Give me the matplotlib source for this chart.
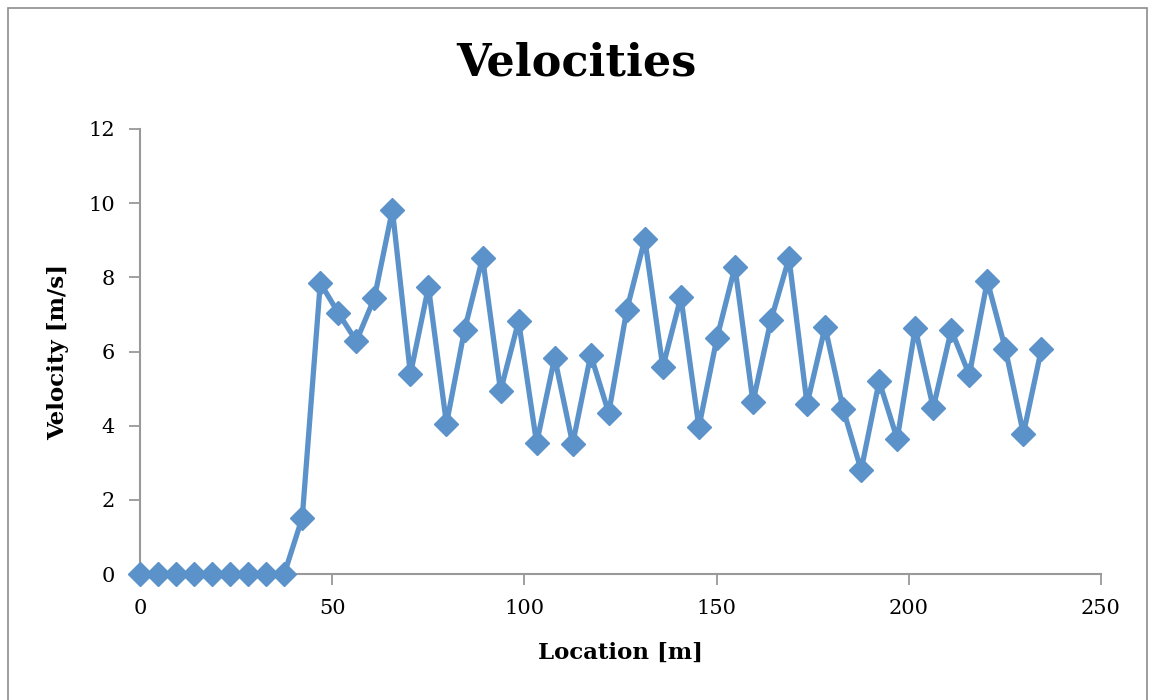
import matplotlib.pyplot as plt
from matplotlib.patches import Rectangle

# Location [m] and velocity [m/s]
location = [0.0, 4.69, 9.38, 14.07, 18.76, 23.45, 28.14, 32.83, 37.52, 42.21,
            46.9, 51.59, 56.28, 60.97, 65.66, 70.35, 75.04, 79.73, 84.42, 89.11,
            93.8, 98.49, 103.18, 107.87, 112.56, 117.25, 121.94, 126.63, 131.32, 136.01,
            140.7, 145.39, 150.08, 154.77, 159.46, 164.15, 168.84, 173.53, 178.22, 182.91,
            187.6, 192.29, 196.98, 201.67, 206.36, 211.05, 215.74, 220.43, 225.12, 229.81,
            234.5]
velocity = [0, 0, 0, 0, 0, 0, 0, 0, 0, 1.52,
            7.85, 7.04, 6.28, 7.44, 9.82, 5.39, 7.74, 4.05, 6.58, 8.53,
            4.94, 6.82, 3.53, 5.83, 3.51, 5.91, 4.34, 7.12, 9.03, 5.58,
            7.47, 3.96, 6.36, 8.28, 4.64, 6.85, 8.52, 4.58, 6.66, 4.45,
            2.80, 5.20, 3.64, 6.63, 4.48, 6.58, 5.37, 7.90, 6.07, 3.78,
            6.07]

x_ticks = [0, 50, 100, 150, 200, 250]
y_ticks = [0, 2, 4, 6, 8, 10, 12]

plt.rcParams['font.family'] = ['DejaVu Serif']
fig = plt.figure(figsize=(11.53, 7.0), dpi=100)
ax = fig.add_axes([140 / 1153, 1 - 574 / 700, (1101 - 140) / 1153, (574 - 129) / 700])

ax.plot(location, velocity, color='#5B92CA', linewidth=3.8, marker='D',
        markersize=12, markerfacecolor='#5B92CA', markeredgecolor='#5B92CA',
        clip_on=False, zorder=3)

ax.set_xlim(0, 250)
ax.set_ylim(0, 12)
ax.set_xticks(x_ticks)
ax.set_yticks(y_ticks)
ax.tick_params(axis='both', direction='out', length=8, width=1.3, color='#999999',
               labelsize=15, pad=10)
for side in ['top', 'right']:
    ax.spines[side].set_visible(False)
for side in ['left', 'bottom']:
    ax.spines[side].set_color('#999999')
    ax.spines[side].set_linewidth(1.5)

fig.suptitle('Velocities', fontsize=32, fontweight='bold', y=1 - 63 / 700, va='center')
ax.set_xlabel('Location [m]', fontsize=16.5, fontweight='bold', labelpad=17)
ax.set_ylabel('Velocity [m/s]', fontsize=16.5, fontweight='bold', labelpad=14)

# outer chart border
fig.patches.append(Rectangle((8 / 1153, -0.02), (1147 - 8) / 1153, 1.02 - 8 / 700,
                             transform=fig.transFigure, fill=False,
                             edgecolor='#8c8c8c', linewidth=1.2))

fig.savefig('out.png', dpi=100)
